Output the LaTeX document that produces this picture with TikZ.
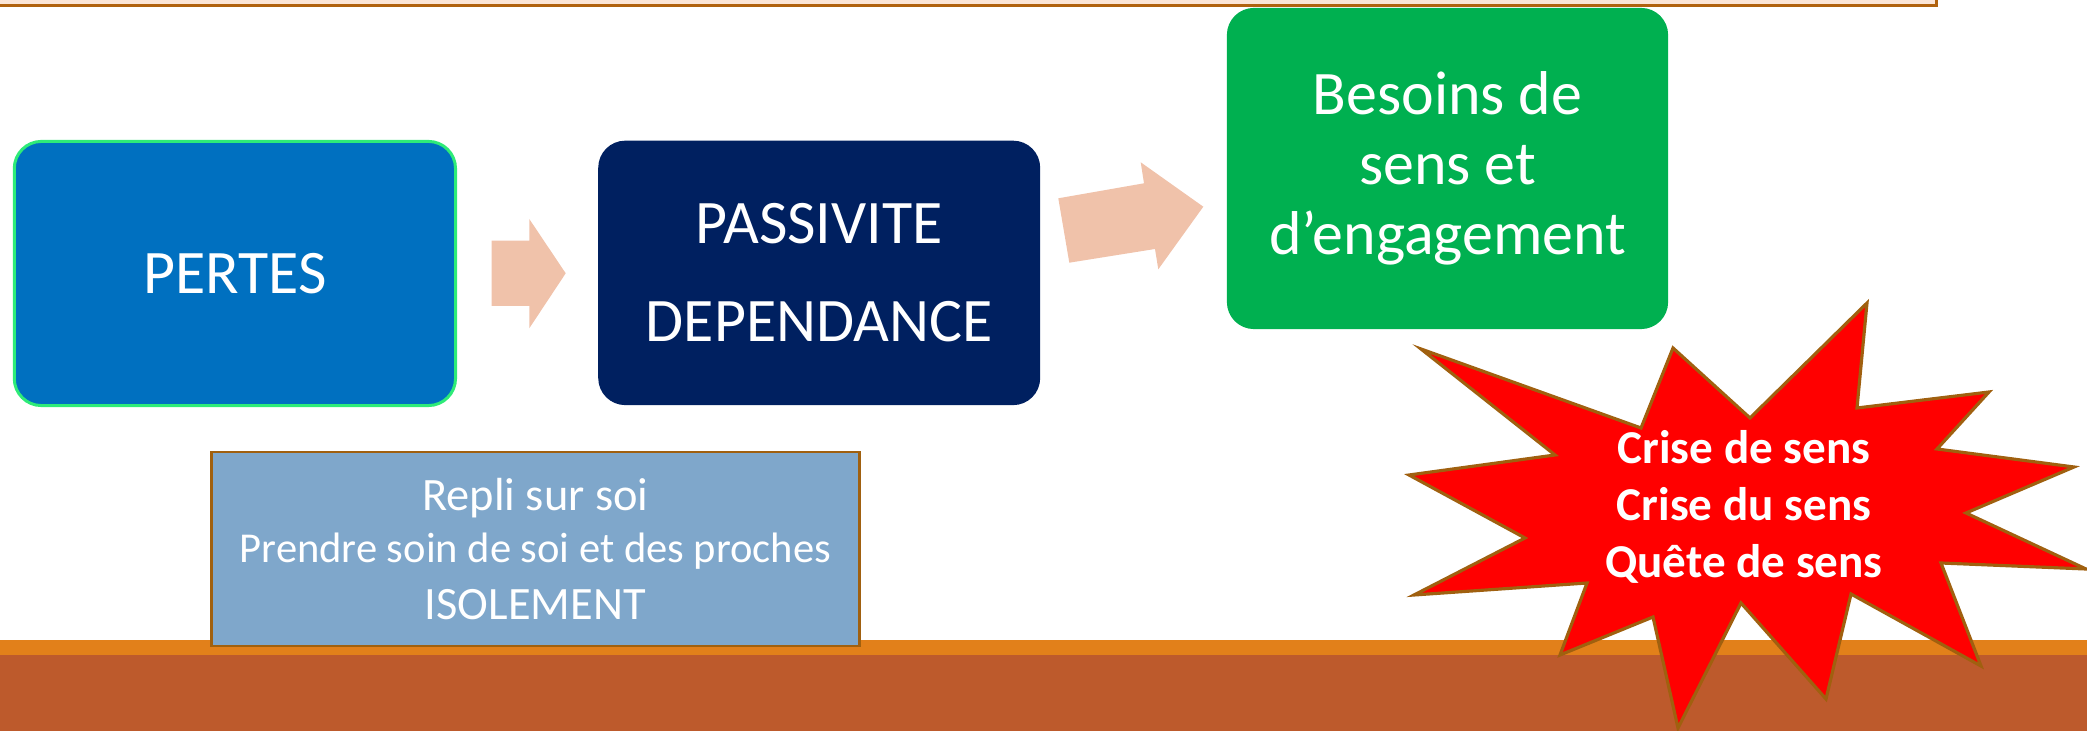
\documentclass[tikz,border=0pt]{standalone}
\usepackage{fontspec}
\setmainfont{Carlito}
\begin{document}
\begin{tikzpicture}[x=0.01cm,y=-0.01cm,
  box/.style={rectangle,rounded corners=7.7pt,inner sep=0pt,outer sep=0pt,text=white,align=center},
  bigtxt/.style={font=\fontsize{17.6}{19.9}\selectfont},
  blockarrow/.style={fill=arrowc,draw=none},
]
\definecolor{peach}{HTML}{FBE5D6}
\definecolor{brownline}{HTML}{B0620E}
\definecolor{pertesc}{HTML}{0070C0}
\definecolor{pertesb}{HTML}{2EEB78}
\definecolor{passc}{HTML}{002060}
\definecolor{greenc}{HTML}{00B050}
\definecolor{replic}{HTML}{7FA7CB}
\definecolor{arrowc}{HTML}{F0C2AA}
\definecolor{starb}{HTML}{A0600F}
\definecolor{orangec}{HTML}{E2801A}
\definecolor{brownc}{HTML}{BD5A2C}
\useasboundingbox (0,0) rectangle (2087,731);
% bottom bands
\fill[orangec] (0,640) rectangle (2087,656);
\fill[brownc] (0,655) rectangle (2087,731);
% main boxes
\node[box,fill=pertesc,draw=pertesb,line width=0.85pt,minimum width=4.41cm,minimum height=2.64cm,bigtxt] (pertes) at (234.9,273.5) {PERTES};
\node[box,fill=passc,minimum width=4.417cm,minimum height=2.643cm,font=\fontsize{17.6}{27.9}\selectfont] (passiv) at (819.2,272.9) {PASSIVITE\\DEPENDANCE};
\node[box,fill=greenc,minimum width=4.41cm,minimum height=3.21cm,bigtxt] (besoins) at (1447.5,168.5) {Besoins de\\sens et\\d’engagement};
% top bar
\draw[fill=peach,draw=brownline,line width=0.77pt] (-10,-10) rectangle (1936.5,5.3);
% block arrows
\fill[blockarrow] (491.7,240.7) -- (529.3,240.7) -- (529.3,219) -- (565.7,273.3) -- (529.3,328.3) -- (529.3,306) -- (491.7,306) -- cycle;
\fill[blockarrow] (1058.3,198.3) -- (1144,183.3) -- (1140.7,162.3) -- (1203.3,206.7) -- (1158.3,269.3) -- (1155,249) -- (1069.3,262.7) -- cycle;
% repli box
\node[rectangle,fill=replic,draw=starb,line width=0.8pt,inner sep=0pt,outer sep=0pt,minimum width=6.48cm,minimum height=1.94cm,text=white,align=center,font=\fontsize{12.1}{14.8}\selectfont] (repli) at (535.4,549)
  {{\fontsize{13.2}{14.8}\selectfont Repli sur soi}\\Prendre soin de soi et des proches\\[1.4pt]{\fontsize{13.2}{14.8}\selectfont ISOLEMENT}};
% star
\draw[fill=red,draw=starb,line width=0.9pt,line join=miter]
  (1421,349) -- (1641,428) -- (1673,348) -- (1750,418) -- (1867,303) -- (1857,408)
  -- (1989,392) -- (1937,449) -- (2074,467) -- (1966,513) -- (2086,569) -- (1941,563)
  -- (1981,666) -- (1851,594) -- (1826,699) -- (1741,603) -- (1678,728) -- (1653,617)
  -- (1560,655) -- (1587,583) -- (1414,595) -- (1525,538) -- (1409,475) -- (1555,455) -- cycle;
\node[text=white,align=center,inner sep=0pt,font=\fontsize{13.4}{16.2}\selectfont\bfseries] (crise) at (1744,506.5)
  {Crise de sens\\Crise du sens\\Quête de sens};
\end{tikzpicture}
\end{document}
